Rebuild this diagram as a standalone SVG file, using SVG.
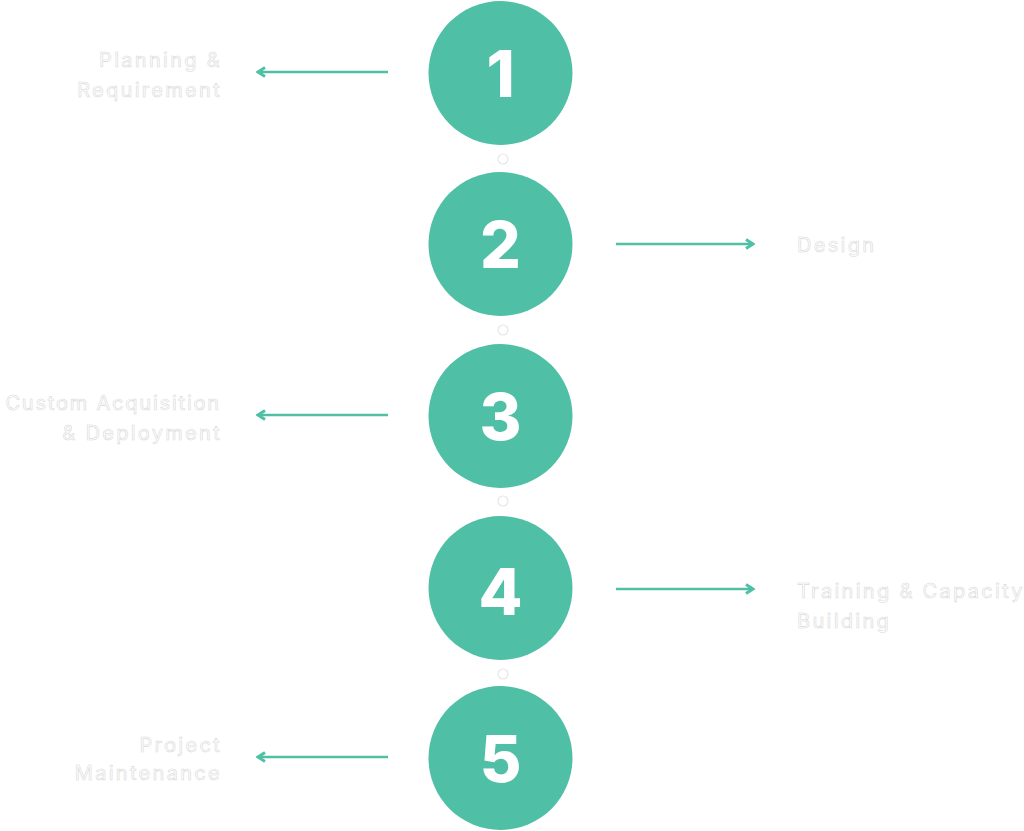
<svg xmlns="http://www.w3.org/2000/svg" width="1024" height="831" viewBox="0 0 1024 831">
<defs>
<style>
.step{fill:#4FBFA5}
.num{font-family:Inter,"Open Sans","Liberation Sans",sans-serif;font-weight:800;font-size:64px;fill:#fff;text-anchor:middle}
.dot{fill:#fff;stroke:#e6e6e6;stroke-width:1.2}
.lbl{font-family:Inter,"Open Sans","Liberation Sans",sans-serif;font-size:20px;letter-spacing:2.3px;fill:#fff;stroke:#d9d9d9;stroke-width:0.6}
.end{text-anchor:end}
.tight{letter-spacing:1.8px}
.arr{stroke:#4FBFA5;stroke-width:2.5;fill:none;marker-end:url(#ah)}
</style>
<marker id="ah" viewBox="0 0 12 12" refX="10" refY="6" markerWidth="12" markerHeight="12" markerUnits="userSpaceOnUse" orient="auto">
<path d="M3 1.5 L10 6 L3 10.5" fill="none" stroke="#4FBFA5" stroke-width="3" stroke-linejoin="miter"/>
</marker>
</defs>
<rect width="1024" height="831" fill="#fff"/>
<g id="connectors">
<line class="arr" x1="388" y1="72" x2="258" y2="72"/>
<line class="arr" x1="616" y1="244" x2="753" y2="244"/>
<line class="arr" x1="388" y1="415" x2="258" y2="415"/>
<line class="arr" x1="616" y1="589" x2="753" y2="589"/>
<line class="arr" x1="388" y1="757" x2="258" y2="757"/>
<circle class="dot" cx="503" cy="159" r="5"/>
<circle class="dot" cx="503" cy="330" r="5"/>
<circle class="dot" cx="503" cy="501" r="5"/>
<circle class="dot" cx="503" cy="674" r="5"/>
</g>
<g id="node1">
<circle class="step" cx="500.5" cy="73" r="72"/>
<text class="num" x="500.5" y="97">1</text>
<text class="lbl end" x="222" y="67">Planning &amp;</text>
<text class="lbl end" x="222" y="97">Requirement</text>
</g>
<g id="node2">
<circle class="step" cx="500.5" cy="244" r="72"/>
<text class="num" x="500.5" y="268">2</text>
<text class="lbl" x="797" y="252">Design</text>
</g>
<g id="node3">
<circle class="step" cx="500.5" cy="416" r="72"/>
<text class="num" x="500.5" y="440">3</text>
<text class="lbl end tight" x="221" y="410">Custom Acquisition</text>
<text class="lbl end" x="222" y="440">&amp; Deployment</text>
</g>
<g id="node4">
<circle class="step" cx="500.5" cy="588" r="72"/>
<text class="num" x="500.5" y="615">4</text>
<text class="lbl" x="797" y="598">Training &amp; Capacity</text>
<text class="lbl" x="797" y="628">Building</text>
</g>
<g id="node5">
<circle class="step" cx="500.5" cy="758" r="72"/>
<text class="num" x="500.5" y="782">5</text>
<text class="lbl end" x="222" y="752">Project</text>
<text class="lbl end" x="222" y="780">Maintenance</text>
</g>
</svg>
